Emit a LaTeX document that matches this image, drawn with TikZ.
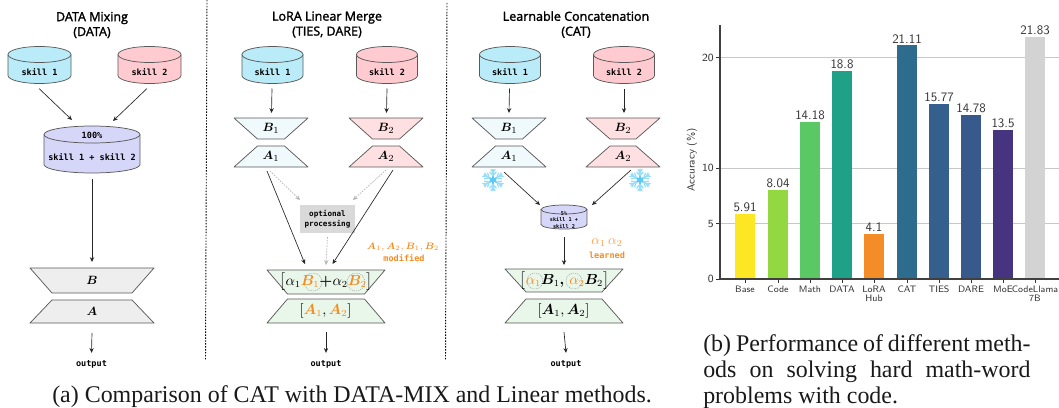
\documentclass[tikz,border=0pt]{standalone}
\usepackage{amsmath,bm}
\usepackage{fontspec}
\setmainfont{Liberation Serif}
\newfontfamily\ttlfont[FakeBold=1.8]{Open Sans}
\newfontfamily\monof{DejaVu Sans Mono}
\usetikzlibrary{arrows.meta}
\definecolor{cya}{HTML}{B9ECF8}
\definecolor{pnk}{HTML}{FFCBD1}
\definecolor{prp}{HTML}{D6D6F8}
\definecolor{palecy}{HTML}{F0F9FC}
\definecolor{palepk}{HTML}{FFE0E2}
\definecolor{palegn}{HTML}{E9F6EA}
\definecolor{palegy}{HTML}{EEEEEE}
\definecolor{org}{HTML}{F78B1E}
\definecolor{lorg}{HTML}{FBA050}
\newcommand\pu{0.75pt}
\tikzset{
  x=0.75pt,y=-0.75pt,
  shapeline/.style={draw=black!65,line width=0.55pt,line join=round},
  anchorbox/.style={inner sep=0pt,outer sep=0pt,rectangle,align=center},
  monotxt/.style={inner sep=0pt,align=center,font=\monof\bfseries\fontsize{6.4}{9}\selectfont},
  ttl/.style={inner sep=0pt,align=center,font=\ttlfont\fontsize{9.4}{11.2}\selectfont},
  arr/.style={-{Stealth[length=3.6pt,width=3.2pt]},line width=0.5pt,black!85},
  garr/.style={-{Stealth[length=3.6pt,width=3.2pt]},line width=0.5pt,black!30,dash pattern=on 1.2pt off 0.9pt},
  sep/.style={black,line width=0.7pt,dash pattern=on 1.1pt off 1.1pt},
  bigm/.style={inner sep=0pt,font=\fontsize{10.5}{10.5}\selectfont},
  hl/.style={draw=black!40,line width=0.35pt,dash pattern=on 0.8pt off 0.8pt},
  barval/.style={inner sep=0pt,font=\sffamily\fontsize{9.7}{9.7}\selectfont,text=black!80},
  xlab/.style={inner sep=0pt,align=center,font=\sffamily\fontsize{7}{7.2}\selectfont,text=black!80},
  ylab/.style={inner sep=0pt,font=\sffamily\fontsize{8.2}{8.2}\selectfont,text=black!80},
  capt/.style={inner sep=0pt,anchor=west,font=\fontsize{17.95}{17.95}\selectfont,text=black!90},
  flk/.style={line width=1.05pt,color=#1,line cap=round},
}
% name, cx, cy, width, height, ellipse height, fill
\newcommand\cyl[7]{%
  \draw[shapeline,fill=#7] ({#2-#4/2},{#3-#5/2+#6/2}) -- ({#2-#4/2},{#3+#5/2-#6/2})
     arc[start angle=180,end angle=0,x radius=#4/2,y radius=#6/2] -- ({#2+#4/2},{#3-#5/2+#6/2});
  \draw[shapeline,fill=#7] (#2,{#3-#5/2+#6/2}) ellipse[x radius=#4/2,y radius=#6/2];
  \node[anchorbox,minimum width=#4*\pu,minimum height=#5*\pu] (#1) at (#2,#3) {};
}
% name, cx, ytop, ybot, wtop, wbot, fill, text
\newcommand\trap[8]{%
  \draw[shapeline,fill=#7] ({#2-#5/2},#3) -- ({#2+#5/2},#3) -- ({#2+#6/2},#4) -- ({#2-#6/2},#4) -- cycle;
  \node[anchorbox,minimum width=#6*\pu,minimum height={(#4-#3)*\pu},font=\fontsize{9.4}{9.4}\selectfont] (#1) at (#2,{(#3+#4)/2}) {#8};
}
\newcommand\flake[2]{%
  \foreach \a in {0,60,...,300}{
    \begin{scope}[shift={(#1,#2)},rotate=\a+30]
      \draw[flk=cyan!40] (0,0) -- (10.5,0);
      \draw[flk=cyan!40] (4.5,0) -- (8,3.2) (4.5,0) -- (8,-3.2);
      \draw[flk=cyan!40] (7.5,0) -- (10.5,2) (7.5,0) -- (10.5,-2);
      \draw[flk=cyan!65,line width=1.6pt] (0,0) -- (3.2,0);
    \end{scope}}
}
\begin{document}
\begin{tikzpicture}
\useasboundingbox (0,0) rectangle (1059,407);
% separators
\coordinate (sepAt) at (207,0); \coordinate (sepAb) at (205.5,360);
\coordinate (sepBt) at (447,3); \coordinate (sepBb) at (445.5,360);
\draw[sep] (sepAt) -- (sepAb);
\draw[sep] (sepBt) -- (sepBb);
% ---------------- panel 1
\node[ttl] (title1) at (92,25) {DATA Mixing\\(DATA)};
\cyl{pas}{39.5}{65}{63}{37}{16}{cya}
\cyl{pbs}{149.5}{65}{63}{37}{16}{pnk}
\node[monotxt] (pastx) at (39.5,72.5) {skill 1};
\node[monotxt] (pbstx) at (149.5,72.5) {skill 2};
\cyl{pmix}{92}{149.5}{96}{47}{17}{prp}
\node[monotxt] (pmixa) at (92,135) {100\%};
\node[monotxt] (pmixb) at (92,157) {skill 1 + skill 2};
\trap{pB}{92}{268}{293}{124}{80}{palegy}{$\bm{B}$}
\trap{pA}{92}{300}{323}{80}{124}{palegy}{$\bm{A}$}
\node[monotxt] (pout) at (91.5,364) {output};
\draw[arr] ([shift={(-0.5,5)}]pas.south) -- ([shift={(-20,-6)}]pmix.north);
\draw[arr] ([shift={(-2.5,5)}]pbs.south) -- ([shift={(21,-5)}]pmix.north);
\draw[arr] ([shift={(0,6)}]pmix.south) -- ([shift={(0,-6)}]pB.north);
\draw[arr] ([shift={(0,10)}]pA.south) -- ([shift={(0,-7)}]pout.north);
% ---------------- panel 2
\node[ttl] (title2) at (327,24.5) {LoRA Linear Merge\\(TIES, DARE)};
\cyl{qas}{272.5}{65}{61}{37}{16}{cya}
\cyl{qbs}{387}{65}{61}{37}{16}{pnk}
\node[monotxt] (qastx) at (272.5,72.5) {skill 1};
\node[monotxt] (qbstx) at (387,72.5) {skill 2};
\trap{qB1}{271}{118}{139}{74}{27}{palecy}{$\bm{B}_1$}
\trap{qA1}{271}{146}{167}{27}{74}{palecy}{$\bm{A}_1$}
\trap{qB2}{386}{118}{139}{74}{27}{palepk}{$\bm{B}_2$}
\trap{qA2}{386}{146}{167}{27}{74}{palepk}{$\bm{A}_2$}
\node[anchorbox,fill=black!15,minimum width=55*\pu,minimum height=28*\pu,font=\monof\bfseries\fontsize{5.7}{7.2}\selectfont] (qopt) at (327.5,219) {optional\\processing};
\trap{qM}{326}{270}{294}{118}{77}{palegn}{}
\trap{qL}{326}{299}{323}{77}{118}{palegn}{}
\draw[hl] (313,282) circle[radius=9];
\draw[hl] (356,282) circle[radius=9];
\node[bigm] (qMt) at (326,281.5) {$\bigl[\alpha_1\textcolor{org}{\bm{B}_1}{\bm{+}}\alpha_2\textcolor{org}{\bm{B}_2}\bigr]$};
\node[bigm] (qLt) at (325.5,311) {$[\textcolor{org}{\bm{A}_1},\textcolor{org}{\bm{A}_2}]$};
\node[inner sep=0pt,text=org,font=\fontsize{6.8}{6.8}\selectfont] (qmod1) at (403,247) {$\bm{A}_1,\bm{A}_2,\bm{B}_1,\bm{B}_2$};
\node[monotxt,text=org] (qmod2) at (404,258) {modified};
\node[monotxt] (qout) at (326,364) {output};
\draw[arr] ([shift={(-4,4)}]qA1.south) -- ([shift={(-21,-6)}]qM.north);
\draw[arr] ([shift={(7,3)}]qA2.south) -- ([shift={(-32,-6)}]qM.north east);
\draw[garr] ([shift={(-1,4)}]qA1.south) -- ([shift={(0,-5)}]qopt.north west);
\draw[garr] ([shift={(0,3)}]qA2.south) -- ([shift={(-2,-5)}]qopt.north east);
\draw[garr] ([shift={(0,4)}]qopt.south) -- ([shift={(0,-5)}]qM.north);
\draw[arr] ([shift={(0,9)}]qL.south) -- ([shift={(0,-7)}]qout.north);
\draw[arr] ([shift={(-0.5,5)}]qas.south) -- ([shift={(0.5,-5)}]qB1.north);
\draw[arr] ([shift={(0,5)}]qbs.south) -- ([shift={(0.5,-5)}]qB2.north);
% ---------------- panel 3
\node[ttl] (title3) at (576,24.5) {Learnable Concatenation\\(CAT)};
\cyl{ras}{510}{65}{61}{37}{16}{cya}
\cyl{rbs}{624}{65}{61}{37}{16}{pnk}
\node[monotxt] (rastx) at (510,72.5) {skill 1};
\node[monotxt] (rbstx) at (624,72.5) {skill 2};
\trap{rB1}{509}{118}{139}{74}{27}{palecy}{$\bm{B}_1$}
\trap{rA1}{509}{146}{167}{27}{74}{palecy}{$\bm{A}_1$}
\trap{rB2}{623}{118}{139}{74}{26}{palepk}{$\bm{B}_2$}
\trap{rA2}{623}{146}{167}{26}{74}{palepk}{$\bm{A}_2$}
\flake{493}{180}
\flake{640}{180}
\cyl{rmix}{564}{217}{46}{24}{9}{prp}
\node[inner sep=0pt,align=center,font=\monof\bfseries\fontsize{3.9}{5.1}\selectfont] (rmixt) at (564,220) {5\%\\skill 1 +\\skill 2};
\trap{rM}{564}{269}{292}{118}{76}{palegn}{}
\trap{rL}{564}{299}{323}{76}{118}{palegn}{}
\draw[hl] (535,281) circle[radius=8];
\draw[hl] (574,281) circle[radius=8];
\node[bigm] (rMt) at (564.5,281) {$\bigl[\textcolor{org}{\alpha_1}\bm{B}_1\bm{,}\,\textcolor{org}{\alpha_2}\bm{B}_2\bigr]$};
\node[bigm] (rLt) at (563.5,311) {$[\bm{A}_1,\bm{A}_2]$};
\node[inner sep=0pt,text=lorg,font=\fontsize{10}{10}\selectfont] (ralp) at (607,243) {$\alpha_1\,\alpha_2$};
\node[monotxt,text=org] (rlrn) at (607,255) {learned};
\node[monotxt] (rout) at (566,364) {output};
\draw[arr] ([shift={(-0.5,5)}]ras.south) -- ([shift={(0,-5)}]rB1.north);
\draw[arr] ([shift={(0,5)}]rbs.south) -- ([shift={(1,-5)}]rB2.north);
\draw[arr] ([shift={(-5,5)}]rA1.south) -- ([shift={(-24,0)}]rmix.north);
\draw[arr] ([shift={(8,3)}]rA2.south) -- ([shift={(28,0)}]rmix.north);
\draw[arr] ([shift={(0,8)}]rmix.south) -- ([shift={(0,-4)}]rM.north);
\draw[arr] ([shift={(0,9)}]rL.south) -- ([shift={(0,-7)}]rout.north);
% ---------------- chart
\foreach \v in {5,10,20}{
  \draw[black!22,line width=0.8pt] (720,{279-11.07*\v}) -- (1059,{279-11.07*\v});
  \draw[black!80,line width=0.5pt] (716,{279-11.07*\v}) -- (720,{279-11.07*\v});
  \node[ylab,anchor=east] (yt\v) at (714,{279-11.07*\v}) {\v};
}
\node[ylab,anchor=east] (yt0) at (714,279) {0};
\foreach \xa/\col/\val/\lab [count=\i] in {
  735/FDE724/5.91/Base, 768/93D840/8.04/Code, 800/5AC864/14.18/Math, 832/1FA187/18.8/DATA,
  864/F48C28/4.1/{LoRA\\Hub}, 897/2E6C8E/21.11/CAT, 929/355F8D/15.77/TIES, 961/38598C/14.78/DARE,
  993/463480/13.5/MoE, 1025/D3D3D3/21.83/{CodeLlama\\7B}}{
  \definecolor{barc}{HTML}{\col}
  \fill[barc] (\xa,279) rectangle ({\xa+20},{279-11.07*\val});
  \node[barval,anchor=south] (bv\i) at ({\xa+10},{279-11.07*\val-2}) {\val};
  \draw[black!80,line width=0.5pt] ({\xa+10},279) -- ({\xa+10},283);
  \node[xlab,anchor=north] (bl\i) at ({\xa+10},285.5) {\lab};
}
\draw[black!75,line width=0.8pt] (720,25) -- (720,279) -- (1059,279);
\draw[black!80,line width=0.5pt] (716,279) -- (720,279);
\node[inner sep=0pt,rotate=90,font=\sffamily\fontsize{7.8}{7.8}\selectfont,text=black!80] (ytitle) at (692,160) {Accuracy (\%)};
% ---------------- captions
\node[capt] (capa) at (52,397) {(a) Comparison of CAT with DATA-MIX and Linear methods.};
\node[capt] (capb1) at (703,346) {\hbox to 245.5pt{(b) Performance of different meth-}};
\node[capt] (capb2) at (703,372) {\hbox to 245.5pt{ods on solving hard math-word}};
\node[capt] (capb3) at (703,398) {problems with code.};
\end{tikzpicture}
\end{document}
